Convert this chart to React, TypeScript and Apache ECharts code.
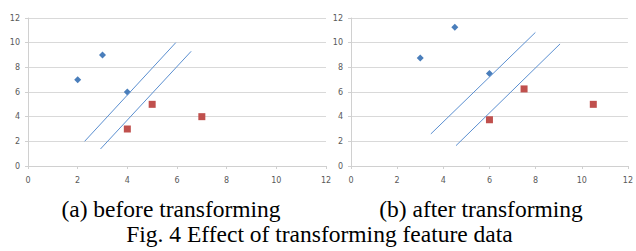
import React, { useEffect, useRef } from "react";
import * as echarts from "echarts";

const blueBefore: [number, number][] = [[2, 7], [3, 9], [4, 6]];
const redBefore: [number, number][] = [[4, 3], [5, 5], [7, 4]];
const line1Before: [number, number][] = [[2.28, 2.0], [5.95, 10.0]];
const line2Before: [number, number][] = [[2.92, 1.38], [6.57, 9.3]];

const blueAfter: [number, number][] = [[3, 8.75], [4.5, 11.25], [6, 7.5]];
const redAfter: [number, number][] = [[6, 3.75], [7.5, 6.25], [10.5, 5]];
const line1After: [number, number][] = [[3.46, 2.6], [7.99, 10.83]];
const line2After: [number, number][] = [[4.55, 1.65], [9.06, 9.9]];

const captionA = "(a) before transforming";
const captionB = "(b) after transforming";
const figCaption = "Fig. 4 Effect of transforming feature data";

const BLUE = "#4a7ebb";
const RED = "#c0504d";
const LINE = "#5b8fd0";

function axisX(gridIndex: number) {
  return {
    type: "value" as const,
    gridIndex,
    min: 0,
    max: 12,
    interval: 2,
    axisLine: { show: true, lineStyle: { color: "#d0d0d0", width: 1 } },
    axisTick: { show: true, length: 3, inside: false, lineStyle: { color: "#d0d0d0" } },
    splitLine: { show: false },
    axisLabel: { color: "#595959", fontSize: 8, fontFamily: "DejaVu Sans", margin: 10, showMaxLabel: true },
  };
}
function axisY(gridIndex: number) {
  return {
    type: "value" as const,
    gridIndex,
    min: 0,
    max: 12,
    interval: 2,
    axisLine: { show: true, lineStyle: { color: "#d0d0d0", width: 1 } },
    axisTick: { show: true, length: 3, lineStyle: { color: "#d0d0d0" } },
    splitLine: { show: true, lineStyle: { color: "#d9d9d9", width: 1 } },
    axisLabel: { color: "#595959", fontSize: 8, fontFamily: "DejaVu Sans", margin: 8 },
  };
}

const capStyle = { fontFamily: "Liberation Serif", fontSize: 23.5, fontWeight: "normal" as const, color: "#000" };

export default function App() {
  const ref = useRef<HTMLDivElement>(null);
  useEffect(() => {
    document.body.style.margin = "0";
    const chart = echarts.init(ref.current!, undefined, { renderer: "svg" });
    const lineSeries = (data: [number, number][], idx: number) => ({
      type: "line" as const,
      xAxisIndex: idx,
      yAxisIndex: idx,
      data,
      symbol: "none",
      lineStyle: { color: LINE, width: 1 },
    });
    const scatter = (data: [number, number][], idx: number, symbol: string, color: string) => ({
      type: "scatter" as const,
      xAxisIndex: idx,
      yAxisIndex: idx,
      data,
      symbol,
      symbolSize: 7,
      itemStyle: { color, opacity: 1 },
    });
    chart.setOption({
      animation: false,
      backgroundColor: "#ffffff",
      grid: [
        { left: 28, right: 310, top: 18, bottom: 85, containLabel: false },
        { left: 351, right: 3, top: 18, bottom: 85, containLabel: false },
      ],
      xAxis: [axisX(0), axisX(1)],
      yAxis: [axisY(0), axisY(1)],
      title: [
        { text: captionA, left: 171, top: 197, textAlign: "center", textStyle: capStyle, padding: 0 },
        { text: captionB, left: 481, top: 197, textAlign: "center", textStyle: capStyle, padding: 0 },
        { text: figCaption, left: 319.5, top: 222, textAlign: "center", textStyle: capStyle, padding: 0 },
      ],
      series: [
        lineSeries(line1Before, 0),
        lineSeries(line2Before, 0),
        scatter(blueBefore, 0, "diamond", BLUE),
        scatter(redBefore, 0, "rect", RED),
        lineSeries(line1After, 1),
        lineSeries(line2After, 1),
        scatter(blueAfter, 1, "diamond", BLUE),
        scatter(redAfter, 1, "rect", RED),
      ],
    });
    return () => chart.dispose();
  }, []);
  return <div ref={ref} style={{ width: 636, height: 251 }} />;
}
